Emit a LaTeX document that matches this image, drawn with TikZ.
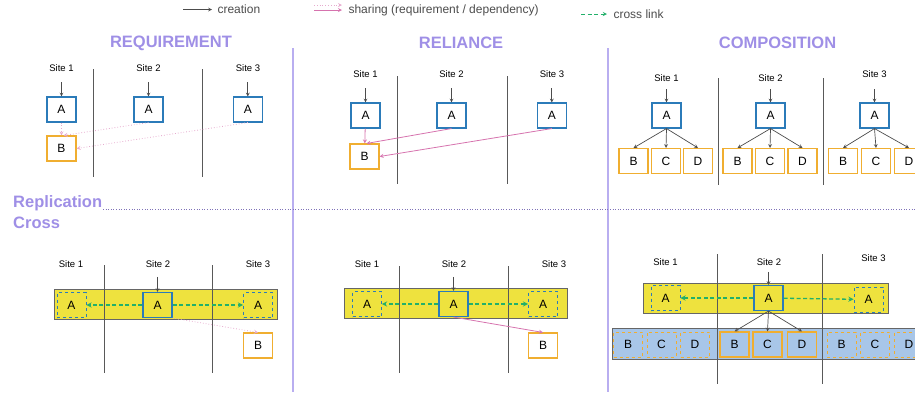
\documentclass[tikz,border=0pt]{standalone}
\usepackage{fontspec}
\setmainfont{Liberation Sans}
\usepackage{tikz}
\usetikzlibrary{arrows,positioning}

\definecolor{titlepurple}{HTML}{9F8FE6}
\definecolor{splitpurple}{HTML}{B9AEF0}
\definecolor{boxblue}{HTML}{2B7BB9}
\definecolor{boxorange}{HTML}{F0AE30}
\definecolor{bandyellow}{HTML}{EEE23E}
\definecolor{bandblue}{HTML}{A8C6E8}
\definecolor{sharepink}{HTML}{D673AE}
\definecolor{linkgreen}{HTML}{22B06A}

\tikzset{
	abox/.style={draw=boxblue, fill=white, line width=1.1pt, minimum width=29pt,
		minimum height=25pt, inner sep=0pt, font=\fontsize{12}{14}\selectfont},
	bbox/.style={abox, draw=boxorange},
	ghost/.style={dashed, fill=none, line width=0.9pt},
	band/.style={draw=black!60, line width=1pt, inner sep=0pt},
	site/.style={font=\fontsize{9.5}{11}\selectfont},
	heading/.style={text=titlepurple, font=\fontsize{16.5}{19}\selectfont\bfseries},
	divider/.style={draw=black!65, line width=0.9pt},
	create/.style={draw=black!70, line width=0.7pt, -stealth},
	require/.style={draw=sharepink!60, dotted, line width=0.8pt, -stealth},
	rely/.style={draw=sharepink, line width=0.8pt, -stealth},
	crosslink/.style={draw=linkgreen, dash pattern=on 4pt off 2.5pt, line width=1.3pt, -stealth},
}

\begin{document}
\begin{tikzpicture}[x=1pt, y=-1pt]
	\useasboundingbox (0,0) rectangle (915,392);

	% legend
	\coordinate (l1) at (183,9.5);
	\coordinate (l2) at (212,9.5);
	\draw [ create ] (l1) to (l2);
	\node [ anchor=west, font=\fontsize{12}{14}\selectfont, text=black!70 ] (lt1) at (214,9.5) {creation};
	\coordinate (l3) at (314,5);
	\coordinate (l4) at (342,5);
	\coordinate (l5) at (314,10);
	\coordinate (l6) at (342,10);
	\draw [ require ] (l3) to (l4);
	\draw [ rely ] (l5) to (l6);
	\node [ anchor=west, font=\fontsize{12}{14}\selectfont, text=black!70 ] (lt2) at (345,10) {sharing (requirement / dependency)};
	\coordinate (l7) at (581,14);
	\coordinate (l8) at (607,14);
	\draw [ crosslink, line width=0.9pt ] (l7) to (l8);
	\node [ anchor=west, font=\fontsize{12}{14}\selectfont, text=black!70 ] (lt3) at (610,14) {cross link};

	% frame
	\draw [ splitpurple, line width=1.3pt ] (293,48) -- (293,392);
	\draw [ splitpurple, line width=1.3pt ] (608,48) -- (608,392);
	\draw [ titlepurple!80!black, dotted, line width=0.6pt ] (103,209) -- (915,209);
	\node [ heading ] (h1) at (171,43) {REQUIREMENT};
	\node [ heading ] (h2) at (461,43) {RELIANCE};
	\node [ heading ] (h3) at (777.5,43) {COMPOSITION};
	\node [ heading, anchor=west, inner sep=0pt ] (h4) at (13,203) {Replication};
	\node [ heading, anchor=west, inner sep=0pt ] (h5) at (13,223) {Cross};

	% requirement
	\node [ site ] (rs1) at (61.5,68) {Site 1};
	\node [ site ] (rs2) at (148.5,68) {Site 2};
	\node [ site ] (rs3) at (248,68) {Site 3};
	\draw [ divider ] (93,69) -- (93,177);
	\draw [ divider ] (202,69) -- (202,177);
	\node [ abox ] (ra1) at (61.5,109.5) {A};
	\node [ abox ] (ra2) at (148.5,109.5) {A};
	\node [ abox ] (ra3) at (247.8,109.5) {A};
	\node [ bbox ] (rb) at (61.5,148.5) {B};
	\coordinate [ above=14pt of ra1.north ] (rc1);
	\coordinate [ above=14pt of ra2.north ] (rc2);
	\coordinate [ above=14pt of ra3.north ] (rc3);
	\draw [ create ] (rc1) to (ra1);
	\draw [ create ] (rc2) to (ra2);
	\draw [ create ] (rc3) to (ra3);
	\draw [ require ] (ra1) to (rb);
	\draw [ require ] (ra2.south) to ([xshift=2pt]rb.north);
	\draw [ require ] (ra3.south) to (rb.east);

	% reliance
	\node [ site ] (ls1) at (365.5,74) {Site 1};
	\node [ site ] (ls2) at (451.5,74) {Site 2};
	\node [ site ] (ls3) at (552,74) {Site 3};
	\draw [ divider ] (397,76) -- (397,184);
	\draw [ divider ] (507,76) -- (507,184);
	\node [ abox ] (la1) at (365.5,115.5) {A};
	\node [ abox ] (la2) at (451.5,115.5) {A};
	\node [ abox ] (la3) at (551.8,115.5) {A};
	\node [ bbox ] (lb) at (364.5,156.5) {B};
	\coordinate [ above=14pt of la1.north ] (lc1);
	\coordinate [ above=14pt of la2.north ] (lc2);
	\coordinate [ above=14pt of la3.north ] (lc3);
	\draw [ create ] (lc1) to (la1);
	\draw [ create ] (lc2) to (la2);
	\draw [ create ] (lc3) to (la3);
	\draw [ rely ] (la1) to (lb);
	\draw [ rely ] (la2.south) to ([xshift=2pt]lb.north);
	\draw [ rely ] (la3.south) to (lb.east);

	% composition
	\node [ site ] (cs1) at (666.5,78) {Site 1};
	\node [ site ] (cs2) at (770.5,78) {Site 2};
	\node [ site ] (cs3) at (874.5,74) {Site 3};
	\draw [ divider ] (718,78) -- (718,185);
	\draw [ divider ] (823,78) -- (823,185);
	\foreach \n/\x/\bx/\cx/\dx in {1/666.5/633.5/666/698, 2/770.5/737.5/770/802.5, 3/874.5/843/876/909} {
		\node [ abox ] (ca\n) at (\x,115.5) {A};
		\node [ bbox ] (cb\n) at (\bx,161) {B};
		\node [ bbox ] (cc\n) at (\cx,161) {C};
		\node [ bbox ] (cd\n) at (\dx,161) {D};
		\coordinate [ above=13pt of ca\n.north ] (cp\n);
		\draw [ create ] (cp\n) to (ca\n);
		\draw [ create ] (ca\n.south) to (cb\n.north);
		\draw [ create ] (ca\n.south) to (cc\n.north);
		\draw [ create ] (ca\n.south) to (cd\n.north);
	}

	% cross replication: requirement
	\node [ site ] (xs1) at (71,264) {Site 1};
	\node [ site ] (xs2) at (158,264) {Site 2};
	\node [ site ] (xs3) at (258,264) {Site 3};
	\node [ band, fill=bandyellow, minimum width=223pt, minimum height=30pt ] (xy) at (165.5,304) {};
	\draw [ divider ] (104,265) -- (104,373);
	\draw [ divider ] (212,265) -- (212,373);
	\node [ abox, ghost ] (xg1) at (71.5,305) {A};
	\node [ abox, fill=bandyellow ] (xa) at (157.5,305) {A};
	\node [ abox, ghost ] (xg3) at (258,305) {A};
	\node [ bbox ] (xb) at (258,345.5) {B};
	\coordinate [ above=15pt of xa.north ] (xc);
	\draw [ create ] (xc) to (xa);
	\draw [ crosslink ] (xa) to (xg1);
	\draw [ crosslink ] (xa) to (xg3);
	\draw [ require ] (xa.south east) to (xb.north);

	% cross replication: reliance
	\node [ site ] (ys1) at (367,264) {Site 1};
	\node [ site ] (ys2) at (454,264) {Site 2};
	\node [ site ] (ys3) at (554,264) {Site 3};
	\node [ band, fill=bandyellow, minimum width=223pt, minimum height=30pt ] (yy) at (455.5,303) {};
	\draw [ divider ] (399,266) -- (399,373);
	\draw [ divider ] (508,266) -- (508,373);
	\node [ abox, ghost ] (yg1) at (367,304) {A};
	\node [ abox, fill=bandyellow ] (ya) at (453.5,304) {A};
	\node [ abox, ghost ] (yg3) at (543,304) {A};
	\node [ bbox ] (yb) at (543,345.5) {B};
	\coordinate [ above=14pt of ya.north ] (yc);
	\draw [ create ] (yc) to (ya);
	\draw [ crosslink ] (ya) to (yg1);
	\draw [ crosslink ] (ya) to (yg3);
	\draw [ rely ] (ya.south) to (yb.north);

	% cross replication: composition
	\node [ site ] (zs1) at (665.5,262) {Site 1};
	\node [ site ] (zs2) at (769,262) {Site 2};
	\node [ site ] (zs3) at (873.5,258) {Site 3};
	\node [ band, fill=bandyellow, minimum width=245pt, minimum height=30pt ] (zy) at (765.5,298) {};
	\node [ band, fill=bandblue, minimum width=313pt, minimum height=31pt ] (zz) at (768.5,343.5) {};
	\draw [ divider ] (717,254) -- (717,384);
	\draw [ divider ] (822,254) -- (822,384);
	\node [ abox, ghost ] (zg1) at (665.5,298) {A};
	\node [ abox, fill=bandyellow ] (za) at (768.5,298) {A};
	\node [ abox, ghost ] (zg3) at (868.5,299.5) {A};
	\coordinate [ above=13pt of za.north ] (zc);
	\draw [ create ] (zc) to (za);
	\draw [ crosslink ] (za) to (zg1);
	\draw [ crosslink ] (za) to (zg3);
	\foreach \n/\bx/\cx/\dx/\k in {1/628/661.5/695/ghost, 2/734.5/767.5/802/solid, 3/841.5/875/909/ghost} {
		\node [ bbox, fill=bandblue, \k ] (zb\n) at (\bx,344.5) {B};
		\node [ bbox, fill=bandblue, \k ] (zcc\n) at (\cx,344.5) {C};
		\node [ bbox, fill=bandblue, \k ] (zd\n) at (\dx,344.5) {D};
	}
	\draw [ create ] (za.south) to (zb2.north);
	\draw [ create ] (za.south) to (zcc2.north);
	\draw [ create ] (za.south) to (zd2.north);
\end{tikzpicture}
\end{document}
